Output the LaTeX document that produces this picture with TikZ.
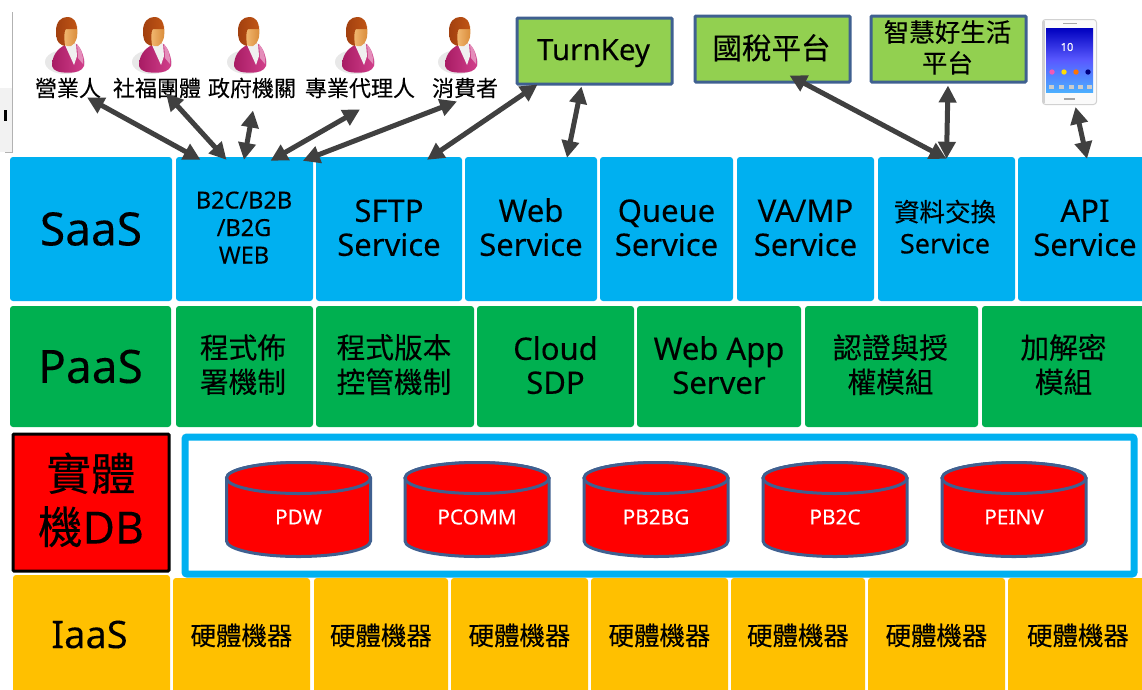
\documentclass[tikz,border=0pt]{standalone}
\usepackage{fontspec}
\setmainfont{Noto Sans}[FakeBold=0.15]
\newfontfamily\cjk{Noto Sans CJK TC}[FakeBold=0.25]
\usetikzlibrary{calc,shapes.geometric,arrows.meta}
\definecolor{sblue}{HTML}{00B0F0}
\definecolor{sgreen}{HTML}{00B050}
\definecolor{syellow}{HTML}{FFC000}
\definecolor{lgreen}{HTML}{92D050}
\definecolor{bdr}{HTML}{3F6090}
\definecolor{arr}{HTML}{404040}
\definecolor{hairc}{HTML}{A2400F}
\definecolor{hairl}{HTML}{C05515}
\definecolor{facel}{HTML}{F4BE78}
\definecolor{faced}{HTML}{D98A38}
\definecolor{suitd}{HTML}{A81C64}
\definecolor{suitl}{HTML}{D2408C}
\newcommand{\fs}[1]{\fontsize{#1}{#1}\selectfont}
\newsavebox{\tbbox}
\newcommand{\tb}[3]{\sbox{\tbbox}{\begin{tabular}{@{}c@{}}#3\end{tabular}}\hspace*{#1pt}\raisebox{\dimexpr #2pt+(\dp\tbbox-\ht\tbbox)/2\relax}[0pt][0pt]{\usebox{\tbbox}}}
\newcommand{\blk}[7]{%
  \pgfmathsetmacro{\bx}{(#2+#4)/2}\pgfmathsetmacro{\by}{(#3+#5)/2}%
  \pgfmathsetmacro{\bw}{#4-#2}\pgfmathsetmacro{\bh}{#5-#3}%
  \node[#6,minimum width=\bw pt,minimum height=\bh pt] (#1) at (\bx,\by) {#7};}
\newcommand{\dbcyl}[3]{%
  \draw[cylline] (#2-72,478) -- (#2-72,541) arc[start angle=180,end angle=0,x radius=72,y radius=15.5]
     -- (#2+72,478) arc[start angle=0,end angle=-180,x radius=72,y radius=15.5] -- cycle;
  \draw[cylline] (#2,478) ellipse (72 and 15.5);
  \node[cyltext] (#1) at (#2,517) {#3};}
\tikzset{
  cellbox/.style={inner sep=0pt,rounded corners=3pt,align=center,text=black},
  saasbox/.style={cellbox,fill=sblue},
  paasbox/.style={cellbox,fill=sgreen},
  iaasbox/.style={cellbox,fill=syellow},
  extbox/.style={cellbox,fill=lgreen,draw=bdr,line width=3pt,rounded corners=1pt},
  svcfont/.style={font=\fontsize{31}{34}\selectfont},
  cjkfont/.style={font=\cjk\fontsize{28.7}{34}\selectfont},
  cylline/.style={draw=bdr,line width=3pt,fill=red},
  cyltext/.style={inner sep=0pt,text=white,font=\fs{20.8}},
  link/.style={arr,line width=5pt,{Triangle[width=17pt,length=17pt]}-{Triangle[width=17pt,length=17pt]}},
  uname/.style={inner sep=0pt,text=black},
  person/.pic={
    \fill[black!9] (-3,46) ellipse (20 and 12);
    \shade[left color=suitd,right color=suitl] (-16,50) .. controls (-16,40) and (-11,33) .. (-3,29) -- (7,27)
       .. controls (13,31) and (17,41) .. (16,50) .. controls (14,55) and (8,57) .. (0,56.5) .. controls (-8,57) and (-15,55) .. (-16,50) -- cycle;
    \fill[black!6] (-3,29) -- (8,27) -- (9,40) -- (6,49) -- cycle;
    \fill[suitl!60!white] (9,28) .. controls (13,32) and (16,41) .. (15,48) -- (10,42) -- cycle;
    \shade[left color=facel,right color=faced] (-5,10) -- (9,10) .. controls (10,20) and (9,27) .. (3,30) .. controls (-1,31) and (-5,29) .. (-6,25) -- cycle;
    \shade[left color=hairc,right color=hairl] (-6,29) .. controls (-11,27) and (-12,22) .. (-12,15) .. controls (-12,6) and (-7,1) .. (-1,1) .. controls (6,1) and (9,6) .. (9,13)
      -- (-2,13) .. controls (-4,14) and (-4,22) .. (-3,30) -- cycle;
  }
}
\begin{document}
\begin{tikzpicture}[x=1pt,y=-1pt]
\useasboundingbox (0,0) rectangle (1142,689);
\fill[white] (0,0) rectangle (1142,689);
\fill[black!5] (0,88) rectangle (12,152);
\draw[black!30,line width=1pt] (12,12) -- (12,152) -- (5,152);
\fill[black] (4,110) rectangle (6.5,121);

\blk{saas}{10}{157}{172}{301}{saasbox,font=\fs{46}}{SaaS}
\blk{b2c}{176}{157}{313}{301}{saasbox,font=\fontsize{23.5}{27.5}\selectfont}{\tb{-1}{-1.5}{B2C/B2B\\/B2G\\WEB}}
\blk{sftp}{316}{157}{462}{301}{saasbox,svcfont}{\tb{0}{-3}{SFTP\\Service}}
\blk{websvc}{465}{157}{597}{301}{saasbox,svcfont}{\tb{0}{-3}{Web\\Service}}
\blk{queue}{600}{157}{733}{301}{saasbox,svcfont}{\tb{0}{-3}{Queue\\Service}}
\blk{vamp}{737}{157}{874}{301}{saasbox,svcfont}{\tb{0}{-3}{VA/MP\\Service}}
\blk{dex}{878}{157}{1015}{301}{saasbox,font=\fontsize{27}{32}\selectfont}{\tb{-3}{-2}{{\cjk\fs{25.5}資料交換}\\Service}}
\blk{api}{1018}{157}{1148}{301}{saasbox,svcfont}{\tb{4}{-3}{API\\Service}}

\blk{paas}{10}{306}{171}{427}{paasbox,font=\fs{46}}{PaaS}
\blk{p1}{176}{306}{313}{427}{paasbox,cjkfont}{\tb{-3}{-2}{程式佈\\署機制}}
\blk{p2}{316}{306}{474}{427}{paasbox,cjkfont}{\tb{-2}{-2}{程式版本\\控管機制}}
\blk{p3}{477}{306}{634}{427}{paasbox,svcfont}{\tb{0}{-3.5}{Cloud\\SDP}}
\blk{p4}{637}{306}{801}{427}{paasbox,svcfont}{\tb{0}{-3.5}{Web App\\Server}}
\blk{p5}{805}{306}{978}{427}{paasbox,cjkfont}{\tb{-2}{-2}{認證與授\\權模組}}
\blk{p6}{982}{306}{1148}{427}{paasbox,cjkfont}{\tb{-3}{-2}{加解密\\模組}}

\blk{dbhead}{13}{434}{169}{571}{cellbox,fill=red,draw=black,line width=3pt,rounded corners=1pt,font=\fontsize{44.5}{53}\selectfont}{\tb{0}{-3.5}{{\cjk 實體}\\{\cjk 機}DB}}
\blk{dbframe}{185}{437}{1134}{574}{cellbox,draw=sblue,line width=7pt,fill=white,rounded corners=2pt}{}
\dbcyl{c1}{298.5}{PDW}
\dbcyl{c2}{477}{PCOMM}
\dbcyl{c3}{656}{PB2BG}
\dbcyl{c4}{835}{PB2C}
\dbcyl{c5}{1014}{PEINV}

\blk{iaas}{13}{575}{170}{695}{iaasbox,font=\fs{38}}{\tb{-4}{-5}{IaaS}}
\blk{h1}{173}{578}{310}{693}{iaasbox,font=\cjk\fs{25.5}}{硬體機器}
\blk{h2}{314}{578}{448}{693}{iaasbox,font=\cjk\fs{25.5}}{硬體機器}
\blk{h3}{451}{578}{588}{693}{iaasbox,font=\cjk\fs{25.5}}{硬體機器}
\blk{h4}{591}{578}{728}{693}{iaasbox,font=\cjk\fs{25.5}}{硬體機器}
\blk{h5}{731}{578}{865}{693}{iaasbox,font=\cjk\fs{25.5}}{硬體機器}
\blk{h6}{868}{578}{1005}{693}{iaasbox,font=\cjk\fs{25.5}}{硬體機器}
\blk{h7}{1008}{578}{1148}{693}{iaasbox,font=\cjk\fs{25.5}}{硬體機器}

\blk{turnkey}{517}{18}{672}{84}{extbox,font=\fs{29.5}}{\tb{-2}{-3}{TurnKey}}
\blk{tax}{695}{16}{850}{82}{extbox,font=\cjk\fs{29.5}}{\tb{-2}{-2}{國稅平台}}
\blk{life}{871}{16}{1026}{82}{extbox,font=\cjk\fontsize{25.5}{31}\selectfont}{\tb{-2}{-2}{智慧好生活\\平台}}

\foreach \px in {68,155,250,358,461}{
  \pic at (\px,16) {person};
}
\node[uname,font=\cjk\fs{22}] (u1) at (68,88) {營業人};
\node[uname,font=\cjk\fs{22}] (u2) at (157,88) {社福團體};
\node[uname,font=\cjk\fs{22}] (u3) at (252,88) {政府機關};
\node[uname,font=\cjk\fs{22}] (u4) at (360,88) {專業代理人};
\node[uname,font=\cjk\fs{22}] (u5) at (465,88) {消費者};

\node[inner sep=0pt,minimum width=54pt,minimum height=85pt,rounded corners=3pt,draw=black!18,line width=1pt,fill=black!2] (phone) at (1069.5,62) {};
\fill[black!18] (1042.5,21) rectangle (1045,103);
\shade[top color=blue!75!black,bottom color=blue!45!cyan!70!white,middle color=blue!65!white] (1046,28) rectangle (1093,92);
\fill[black!35] (1063,22.5) rectangle (1077,24);
\fill[black!35] (1064,98) rectangle (1075,100);
\node[inner sep=0pt,text=white,font=\bfseries\fs{11}] (clock) at (1067,47) {10};
\foreach \ix/\cc in {1052/magenta!65,1064/yellow!80!orange,1076/orange!90!red,1088/blue!50!black}{
  \fill[\cc] (\ix,72) circle (2.7);}
\foreach \ix in {1049,1059,1069,1078,1087}{\fill[white!80!black] (\ix,84.5) rectangle (\ix+4.5,88.5);}

\draw[link] ($(u1.south)+(19,-1)$) -- ($(b2c.north)+(-44,3)$);
\draw[link] ($(u2.south)+(9,-5)$) -- ($(b2c.north)+(-18,3)$);
\draw[link] ($(u3.south)+(1,12)$) -- ($(b2c.north)+(-0.5,3)$);
\draw[link] ($(u4.south)+(0,11)$) -- ($(b2c.north)+(26,4)$);
\draw[link] ($(u5.south)+(-8,3)$) -- ($(sftp.north west)+(-13,4)$);
\draw[link] ($(turnkey.south west)+(22,-1)$) -- ($(sftp.north)+(38,3)$);
\draw[link] ($(turnkey.south west)+(66,1)$) -- ($(websvc.north)+(36,1)$);
\draw[link] ($(tax.south)+(17,-8)$) -- ($(dex.north)+(0,2)$);
\draw[link] ($(life.south)+(-0.5,2)$) -- ($(dex.north)+(0,2)$);
\draw[link] ($(phone.south)+(6,2)$) -- ($(api.north)+(4,2)$);
\end{tikzpicture}
\end{document}
